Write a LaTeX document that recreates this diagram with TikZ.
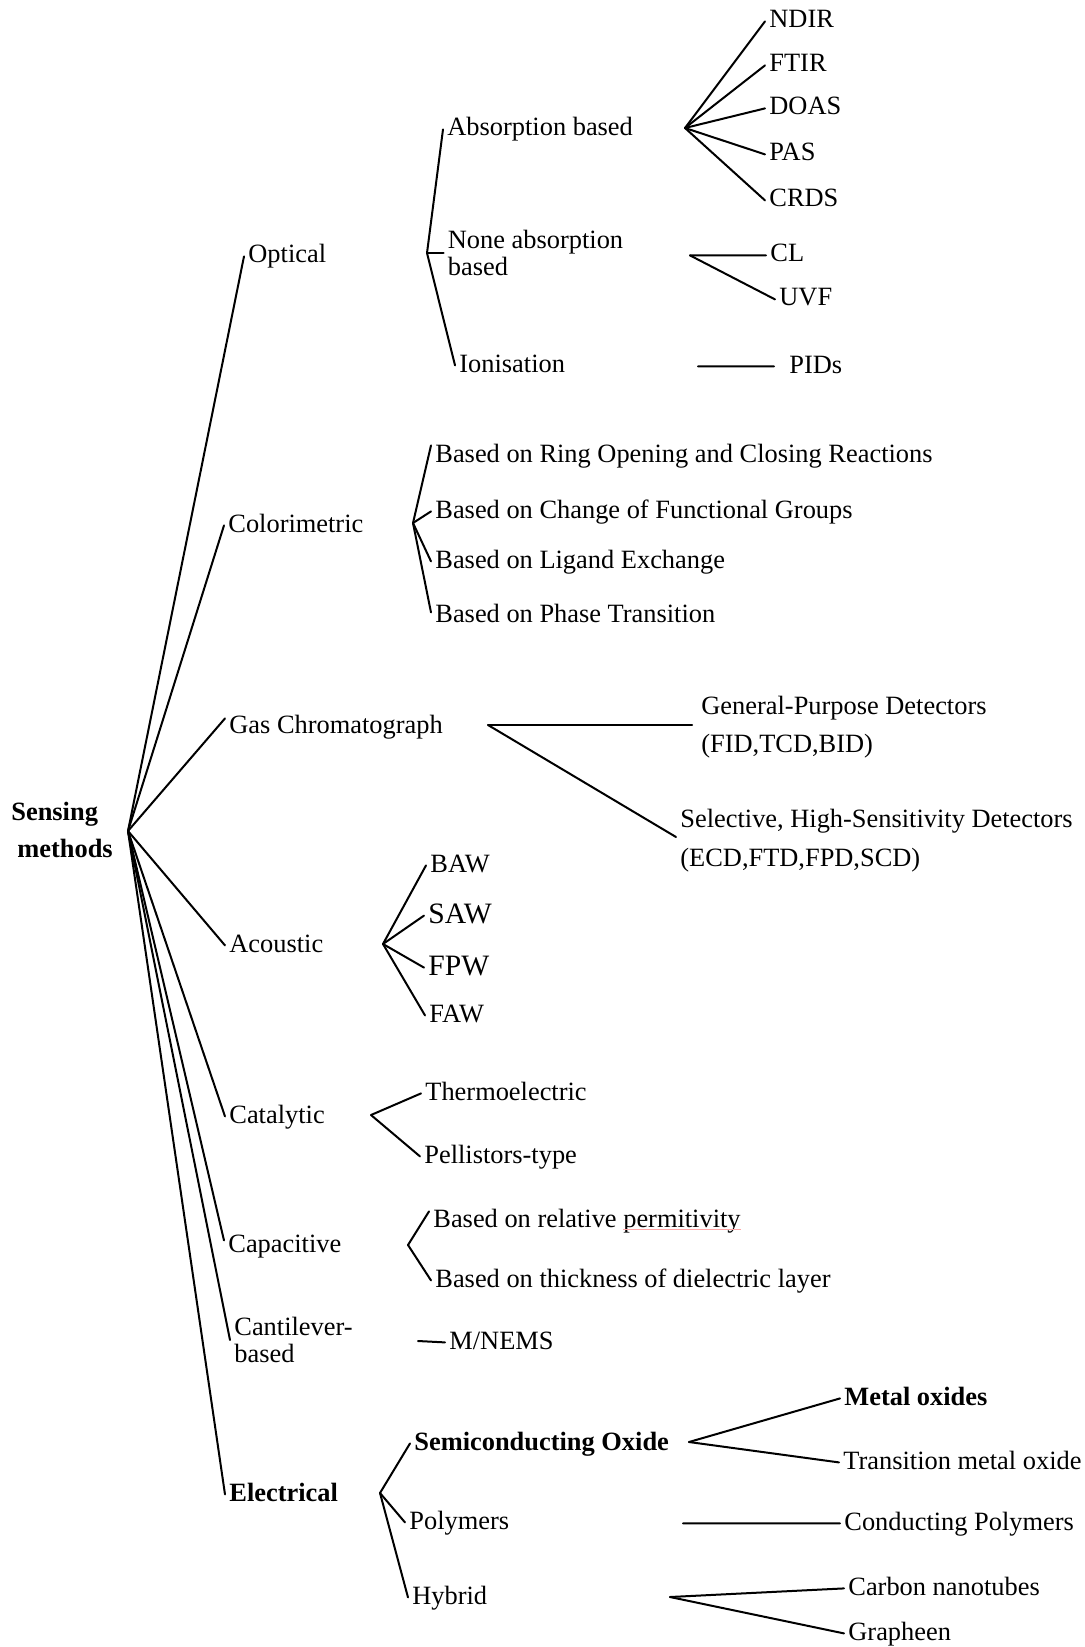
\documentclass[tikz,border=0pt]{standalone}
\usepackage{fontspec}
\setmainfont{Liberation Serif}
\newcommand\fsz{\fontsize{13.2}{18.5}\selectfont}
\newcommand\fbig{\fontsize{14.8}{18.5}\selectfont}
\tikzset{
  lbl/.style={anchor=base west, inner xsep=2pt, inner ysep=0pt, text height=9.2pt, text depth=2.6pt, font=\fsz},
  lblbig/.style={anchor=base west, inner xsep=2pt, inner ysep=0pt, text height=10.4pt, text depth=3pt, font=\fbig},
  lbltwo/.style={anchor=west, inner xsep=2pt, inner ysep=0pt, align=left, font=\fsz},
  conn/.style={line width=1pt, line cap=round, line join=round}
}
\begin{document}
\begin{tikzpicture}[x=0.5pt, y=-0.5pt]
\useasboundingbox (0,0) rectangle (1084,1647);

% ---------- root ----------
\node[lbltwo, font=\fsz\bfseries] (root) at (7,829.5) {Sensing\\\hspace*{3pt}methods};
\coordinate (rootpt) at (128,831);

% ---------- level 1 ----------
\node[lbl] (optical) at (244,263) {Optical};
\node[lbl] (colori) at (224,532) {Colorimetric};
\node[lbl] (gc) at (225,733) {Gas Chromatograph};
\node[lbl] (acoustic) at (225,952) {Acoustic};
\node[lbl] (catalytic) at (225,1123) {Catalytic};
\node[lbl] (capac) at (224,1252) {Capacitive};
\node[lbltwo] (canti) at (230,1340) {Cantilever-\\[-5pt]based};
\node[lbl, font=\fsz\bfseries] (elec) at (225,1501) {Electrical};

\draw[conn] (rootpt) -- (optical.west);
\draw[conn] (rootpt) -- (colori.west);
\draw[conn] (rootpt) -- ([yshift=4pt]gc.west);
\draw[conn] (rootpt) -- (acoustic.west);
\draw[conn] (rootpt) -- (catalytic.west);
\draw[conn] (rootpt) -- ([yshift=2.5pt]capac.west);
\draw[conn] (rootpt) -- (canti.west);
\draw[conn] (rootpt) -- (elec.west);

% ---------- Optical ----------
\coordinate (fopt) at (427,253);
\node[lbl] (absorb) at (443,136) {Absorption based};
\node[lbltwo] (noneabs) at (443.5,253) {None absorption\\[-5pt]based};
\node[lbl] (ionis) at (455,372) {Ionisation};
\draw[conn] (fopt) -- (absorb.west);
\draw[conn] (fopt) -- (noneabs.west);
\draw[conn] (fopt) -- (ionis.west);

\coordinate (fabs) at (685,128);
\node[lbl] (ndir) at (765,28) {NDIR};
\node[lbl] (ftir) at (765,72) {FTIR};
\node[lbl] (doas) at (765,115) {DOAS};
\node[lbl] (pas) at (765,161) {PAS};
\node[lbl] (crds) at (765,207) {CRDS};
\foreach \n in {ndir,ftir,doas,pas,crds} \draw[conn] (fabs) -- (\n.west);

\coordinate (fnone) at (690,255.4);
\node[lbl] (cl) at (766,262) {CL};
\node[lbl] (uvf) at (775,306) {UVF};
\draw[conn] (fnone) -- (cl.west);
\draw[conn] (fnone) -- (uvf.west);

\coordinate (fion) at (698,366.4);
\node[lbl] (pids) at (785,373) {PIDs};
\draw[conn, shorten >=5.5pt] (fion) -- (pids.west);

% ---------- Colorimetric ----------
\coordinate (fcol) at (413,523);
\node[lbl] (ring) at (431,462) {Based on Ring Opening and Closing Reactions};
\node[lbl] (change) at (431,518) {Based on Change of Functional Groups};
\node[lbl] (ligand) at (431,568) {Based on Ligand Exchange};
\node[lbl] (phase) at (431,622) {Based on Phase Transition};
\draw[conn] (fcol) -- ([yshift=5pt]ring.west);
\draw[conn] (fcol) -- (change.west);
\draw[conn] (fcol) -- (ligand.west);
\draw[conn] (fcol) -- ([yshift=1.5pt]phase.west);

% ---------- Gas Chromatograph ----------
\coordinate (fgc) at (488,725);
\node[lbltwo] (general) at (697,727.5) {General-Purpose Detectors\\[0.5pt](FID,TCD,BID)};
\node[lbltwo] (selective) at (676,841) {Selective, High-Sensitivity Detectors\\[1pt](ECD,FTD,FPD,SCD)};
\draw[conn, shorten >=2.5pt] (fgc) -- ([yshift=1.25pt]general.west);
\draw[conn] (fgc) -- ([yshift=2pt]selective.west);

% ---------- Acoustic ----------
\coordinate (facou) at (383,944);
\node[lbl] (baw) at (426,872) {BAW};
\node[lblbig] (saw) at (424,923) {SAW};
\node[lblbig] (fpw) at (424,975) {FPW};
\node[lbl] (faw) at (425,1022) {FAW};
\foreach \n in {baw,saw,fpw,faw} \draw[conn] (facou) -- (\n.west);

% ---------- Catalytic ----------
\coordinate (fcat) at (371,1115);
\node[lbl] (thermo) at (421,1100) {Thermoelectric};
\node[lbl] (pellis) at (420,1163) {Pellistors-type};
\draw[conn] (fcat) -- (thermo.west);
\draw[conn] (fcat) -- (pellis.west);

% ---------- Capacitive ----------
\coordinate (fcap) at (408,1245);
\node[lbl] (relperm) at (429,1227) {Based on relative permitivity};
\node[lbl] (thick) at (431,1287) {Based on thickness of dielectric layer};
\draw[conn] (fcap) -- ([yshift=4.5pt]relperm.west);
\draw[conn] (fcap) -- (thick.west);
\draw[red!35, line width=0.5pt] (623,1229.5) -- (741,1229.5);

% ---------- Cantilever ----------
\coordinate (fcant) at (418,1341);
\node[lbl] (mnems) at (445,1349) {M/NEMS};
\draw[conn] (fcant) -- (mnems.west);

% ---------- Electrical ----------
\coordinate (felec) at (380,1493);
\node[lbl, font=\fsz\bfseries] (semi) at (410,1450) {Semiconducting Oxide};
\node[lbl] (polym) at (405,1529) {Polymers};
\node[lbl] (hybrid) at (408,1604) {Hybrid};
\draw[conn] (felec) -- (semi.west);
\draw[conn] (felec) -- (polym.west);
\draw[conn] (felec) -- (hybrid.west);

\coordinate (fsemi) at (689,1442);
\node[lbl, font=\fsz\bfseries] (metal) at (840,1405) {Metal oxides};
\node[lbl] (transition) at (839,1469) {Transition metal oxide};
\draw[conn] (fsemi) -- (metal.west);
\draw[conn] (fsemi) -- (transition.west);

\coordinate (fpoly) at (683,1523.4);
\node[lbl] (condpoly) at (840,1530) {Conducting Polymers};
\draw[conn] (fpoly) -- (condpoly.west);

\coordinate (fhyb) at (670,1597);
\node[lbl] (carbon) at (844,1595) {Carbon nanotubes};
\node[lbl] (grapheen) at (844,1640) {Grapheen};
\draw[conn] (fhyb) -- (carbon.west);
\draw[conn] (fhyb) -- (grapheen.west);
\end{tikzpicture}
\end{document}
